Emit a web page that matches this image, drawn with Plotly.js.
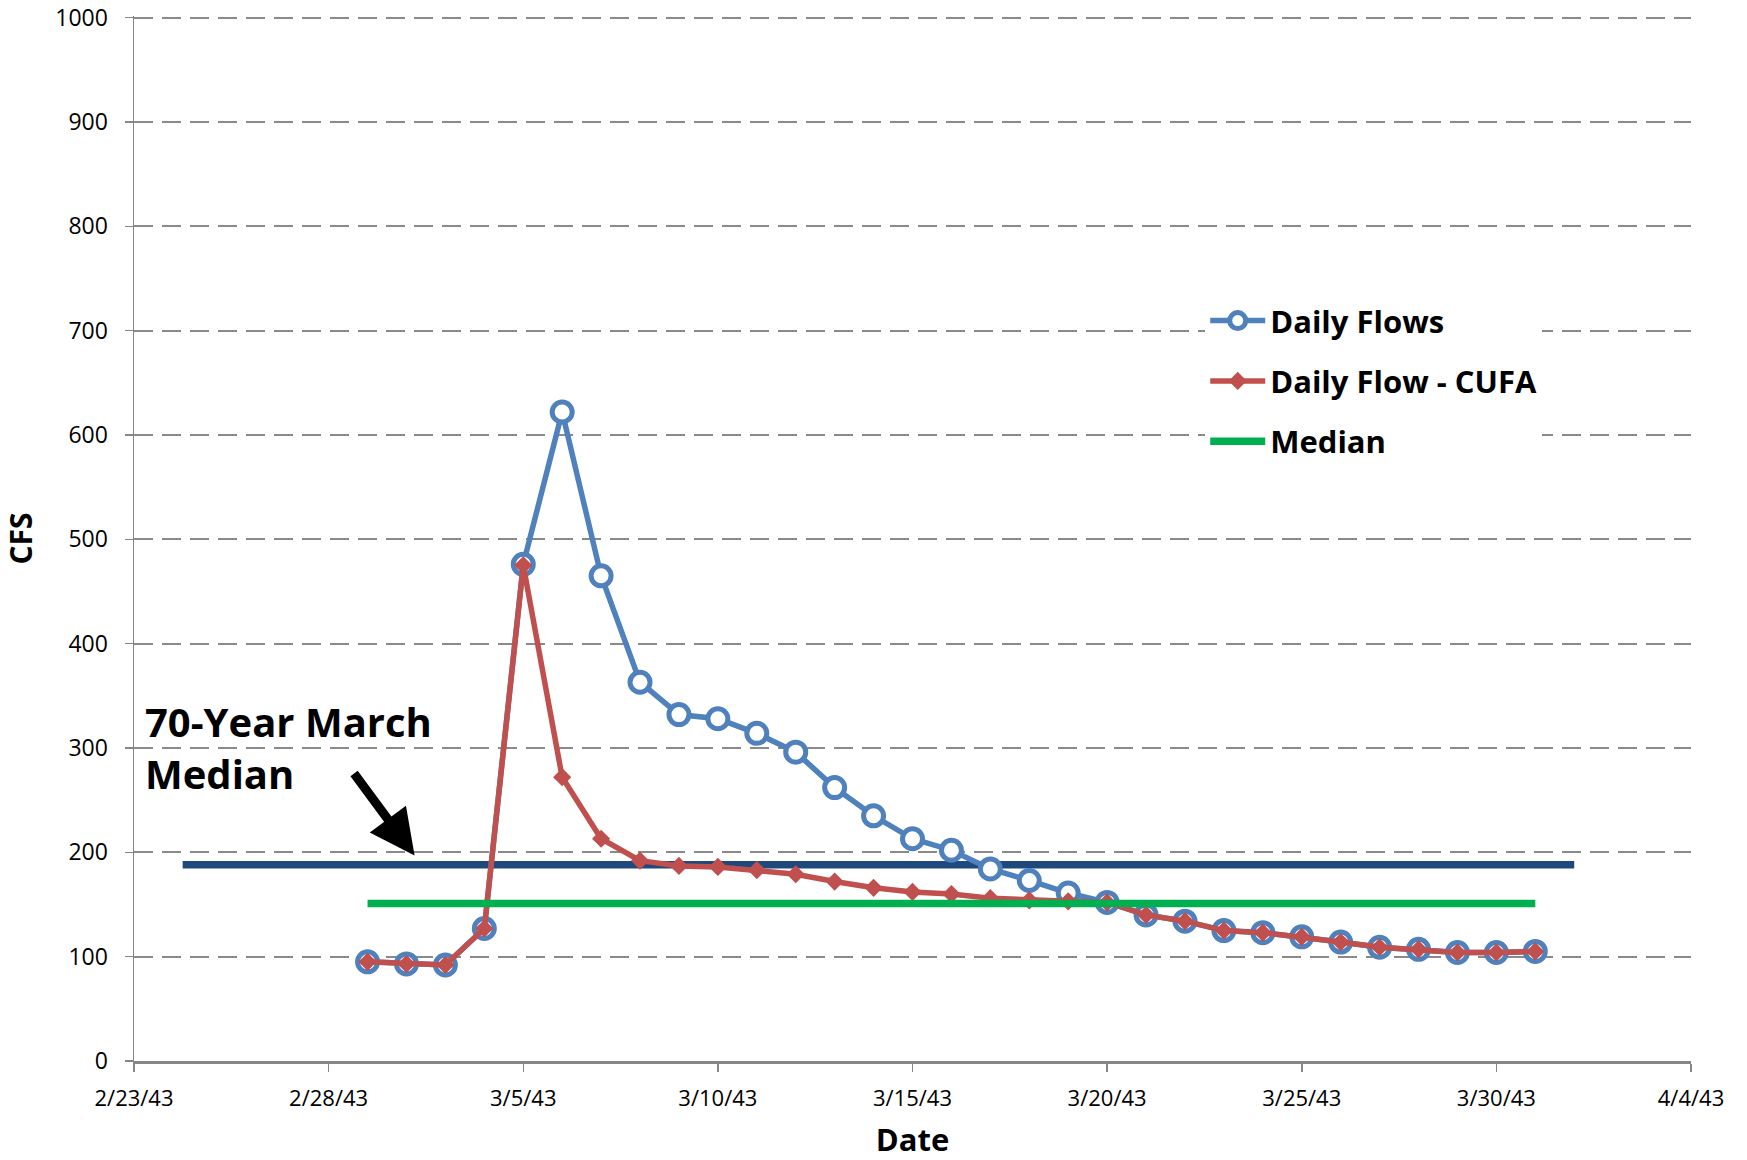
<!DOCTYPE html>
<html>
<head>
<meta charset="utf-8">
<script src="https://cdn.plot.ly/plotly-3.0.1.min.js"></script>
<style>html,body{margin:0;padding:0;background:#fff;}#chart{width:1747px;height:1160px;}</style>
</head>
<body>
<div id="chart"></div>
<script>
// ---- data ----
const dates = [
  '1943-03-01','1943-03-02','1943-03-03','1943-03-04','1943-03-05','1943-03-06','1943-03-07',
  '1943-03-08','1943-03-09','1943-03-10','1943-03-11','1943-03-12','1943-03-13','1943-03-14',
  '1943-03-15','1943-03-16','1943-03-17','1943-03-18','1943-03-19','1943-03-20','1943-03-21',
  '1943-03-22','1943-03-23','1943-03-24','1943-03-25','1943-03-26','1943-03-27','1943-03-28',
  '1943-03-29','1943-03-30','1943-03-31'
];
const dailyFlows = [95, 93, 92, 127, 476, 622, 465, 363, 332, 328, 314, 296, 262, 235, 213, 202, 184, 173, 161, 152, 140, 134, 125, 123, 119, 114, 109, 107, 104, 104, 105];
const dailyFlowCUFA = [95, 93, 92, 127, 475, 272, 213, 192, 187, 186, 183, 179, 172, 166, 162, 160, 156, 154, 153, 152, 140, 134, 125, 123, 119, 114, 109, 107, 104, 104, 105];
const medianDates = ['1943-03-01', '1943-03-31'];
const medianValues = [151, 151];
const march70Dates = ['1943-02-24 06:00', '1943-04-01 00:00'];
const march70Values = [188, 188];
const xTickVals = ['1943-02-23','1943-02-28','1943-03-05','1943-03-10','1943-03-15','1943-03-20','1943-03-25','1943-03-30','1943-04-04'];
const xTickText = ['2/23/43','2/28/43','3/5/43','3/10/43','3/15/43','3/20/43','3/25/43','3/30/43','4/4/43'];
const yTickVals = [0,100,200,300,400,500,600,700,800,900,1000];
const annotationText = '70-Year March<br>Median';
const arrowHead = {x: '1943-03-02 05:00', y: 197};
const arrowTail = {x: '1943-02-28 15:00', y: 277};

const FONT = "'Open Sans', 'Noto Sans', sans-serif";

const traces = [
  {
    x: march70Dates, y: march70Values, name: '70-Year March Median', type: 'scatter', mode: 'lines',
    line: {color: '#1F497D', width: 7.5}, showlegend: false, hoverinfo: 'skip'
  },
  {
    x: dates, y: dailyFlows, name: 'Daily Flows', type: 'scatter', mode: 'lines+markers',
    line: {color: '#4F81BD', width: 5.5},
    marker: {symbol: 'circle', size: 20, color: '#ffffff', line: {color: '#4F81BD', width: 5}},
    legendgroup: 'a'
  },
  {
    x: dates, y: dailyFlowCUFA, name: 'Daily Flow - CUFA', type: 'scatter', mode: 'lines+markers',
    line: {color: '#C0504D', width: 5.5},
    marker: {symbol: 'diamond', size: 14, color: '#C0504D', line: {width: 0}},
    legendgroup: 'b'
  },
  {
    x: medianDates, y: medianValues, name: 'Median', type: 'scatter', mode: 'lines',
    line: {color: '#00B050', width: 7.5},
    legendgroup: 'c'
  }
];

const layout = {
  width: 1747, height: 1160,
  paper_bgcolor: '#ffffff', plot_bgcolor: '#ffffff',
  margin: {l: 134, r: 56, t: 16, b: 99},
  font: {family: FONT, color: '#000000', size: 23},
  showlegend: true,
  legend: {
    x: 0.688, y: 0.734, xanchor: 'left', yanchor: 'top',
    bgcolor: '#ffffff', borderwidth: 0,
    font: {family: FONT, size: 31, color: '#000000', weight: 'bold'},
    traceorder: 'grouped', tracegroupgap: 17, itemwidth: 55
  },
  xaxis: {
    type: 'date', range: ['1943-02-23', '1943-04-04'],
    tickmode: 'array', tickvals: xTickVals, ticktext: xTickText,
    ticks: 'outside', ticklen: 8, tickwidth: 1.5, tickcolor: '#868686',
    showline: true, linecolor: '#868686', linewidth: 3,
    showgrid: false, zeroline: false,
    tickfont: {family: FONT, size: 22, color: '#000'},
    ticklabelstandoff: 8,
    title: {text: 'Date', font: {family: FONT, size: 31, color: '#000', weight: 'bold'}, standoff: 18}
  },
  yaxis: {
    range: [0, 1001.5], tickmode: 'array', tickvals: yTickVals,
    ticks: 'outside', ticklen: 8, tickwidth: 1.5, tickcolor: '#868686',
    showline: true, linecolor: '#868686', linewidth: 1.5,
    showgrid: true, gridcolor: '#8a8a8a', gridwidth: 2, griddash: '19px,9px',
    zeroline: false,
    tickfont: {family: FONT, size: 23, color: '#000'},
    ticklabelstandoff: 12,
    title: {text: 'CFS', font: {family: FONT, size: 30, color: '#000', weight: 'bold'}, standoff: 18}
  },
  annotations: [
    {
      xref: 'paper', yref: 'y', x: 0.006, y: 354, xanchor: 'left', yanchor: 'top',
      text: '<b>' + annotationText + '</b>', showarrow: false, align: 'left',
      font: {family: FONT, size: 40, color: '#000'}
    },
    {
      xref: 'x', yref: 'y', axref: 'x', ayref: 'y',
      x: arrowHead.x, y: arrowHead.y, ax: arrowTail.x, ay: arrowTail.y,
      text: '', showarrow: true, arrowhead: 2, arrowsize: 1, arrowwidth: 9, arrowcolor: '#000000'
    }
  ]
};

Plotly.newPlot('chart', traces, layout, {displayModeBar: false, staticPlot: true});
</script>
</body>
</html>
